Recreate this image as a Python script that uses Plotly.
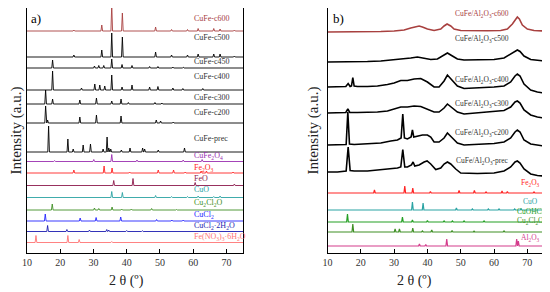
import plotly.graph_objects as go

# ---------- panel a) : peak positions (2 theta) and heights (a.u.) ----------
a_c600_pos = [24.1, 32.5, 35.5, 38.7, 48.7, 53.5, 58.3, 61.5, 66.2, 68.1, 72.4]
a_c600_int = [1, 6, 26, 18, 4, 1.5, 1.5, 2.5, 2.5, 2, 1]
a_c500_pos = [24.1, 32.5, 35.5, 38.7, 48.7, 53.5, 58.3, 61.5, 66.2, 68.1, 72.4]
a_c500_int = [2, 7, 24, 20, 5, 2, 2, 3, 3, 3, 1]
a_c450_pos = [17.7, 30.3, 31.6, 33.1, 35.5, 38.6, 41.6, 46.9, 49.4, 53.9, 57.0]
a_c450_int = [8, 2, 2.5, 2.5, 9, 3.5, 2.5, 1.5, 1.5, 1, 0.8]
a_c400_pos = [17.7, 26.4, 30.4, 31.9, 33.4, 35.5, 38.6, 41.6, 46.9, 49.4, 53.9, 56.9, 62.9]
a_c400_int = [19, 2, 6, 5, 4, 15, 3, 5, 3, 3.5, 2, 1.5, 1.5]
a_c300_pos = [15.6, 17.7, 25.9, 30.9, 35.5, 38.3, 40.5, 48.5, 50.6]
a_c300_int = [14, 5, 4, 6, 3, 5, 1.5, 1.5, 1]
a_c200_pos = [15.6, 16.2, 25.9, 30.9, 38.3, 48.9, 50.2, 54.0]
a_c200_int = [17, 3, 6, 8, 7, 3, 2, 1]
a_prec_pos = [16.5, 22.3, 23.9, 26.9, 29.1, 32.9, 34.1, 34.6, 35.2, 38.4, 41.0, 44.8, 45.4, 49.5, 57.4]
a_prec_int = [26, 13, 3, 7, 8, 3, 15, 4, 3, 2, 4, 4, 3, 2, 4]

ref_cufe2o4_pos = [18.3, 30.1, 35.5, 43.1, 57.0, 62.7]
ref_cufe2o4_int = [1, 2, 7, 1.5, 1.5, 2]
ref_fe2o3_pos = [24.1, 33.2, 35.6, 40.9, 49.5, 54.1, 57.6, 62.4, 64.0, 72.0]
ref_fe2o3_int = [3, 7, 5, 1, 3, 3, 1, 2, 2, 1]
ref_feo_pos = [36.1, 41.9, 60.6, 72.4]
ref_feo_int = [5, 7, 3, 1.5]
ref_cuo_pos = [35.5, 38.7, 48.7, 53.5, 58.3, 61.5, 66.2, 68.1]
ref_cuo_int = [6, 5, 2, 1, 1, 1.5, 1, 1.5]
ref_cu2cl2o_pos = [17.6, 30.3, 31.6, 35.6, 38.5, 41.4, 47.5, 55.0]
ref_cu2cl2o_int = [6, 2, 1.5, 3, 1, 1, 1.5, 0.5]
ref_cucl2_pos = [15.5, 26.0, 30.8, 38.2, 49.0, 53.6, 57.0]
ref_cucl2_int = [7, 3, 3.5, 4, 1.5, 1, 1]
ref_cucl2h2o_pos = [16.2, 22.0, 28.8, 34.0, 34.6, 40.0, 44.7]
ref_cucl2h2o_int = [6, 2, 1.5, 2, 1.5, 1, 0.8]
ref_fenit_pos = [12.7, 22.3, 25.7, 35.5]
ref_fenit_int = [7, 7, 3, 1]

# ---------- panel b) : measured profiles (2 theta, a.u.) ----------
b_c600_x = [10, 14, 18, 22, 26, 30, 33, 35, 36.5, 37.5, 38.5, 40, 42, 44, 45, 45.9, 47, 48, 50, 54, 58,
            62, 64, 65.5, 66.5, 67, 67.6, 68.5, 70, 72, 75]
b_c600_y = [0, 0, 0, 0.3, 0.5, 1, 2, 4, 5.5, 6, 5, 3, 1.5, 3, 6, 8, 6, 3, 1.5, 1.2, 1.2,
            1.5, 3, 8, 13, 15, 13, 7, 3, 1.5, 1]
b_c500_x = [10, 14, 18, 22, 26, 30, 33, 35, 37, 39, 41, 43, 44.5, 46, 47.5, 49, 51, 55, 60, 63, 65,
            66.3, 67, 67.8, 69, 71, 75]
b_c500_y = [0, 0, 0.3, 0.5, 1, 2, 3, 4, 5, 4, 2.5, 3, 6, 9, 6, 3, 2, 2, 2.5, 4, 8,
            11, 12, 10.5, 6, 2.5, 1]
b_c400_x = [10, 13, 15.5, 16.2, 16.8, 17.2, 17.6, 18.0, 19, 22, 25, 28, 30, 32, 34, 36, 38, 40, 42,
            43.5, 45, 46, 47.5, 49, 51, 55, 60, 63, 65, 66.3, 67, 67.8, 69, 71, 73, 75]
b_c400_y = [0, 0, 0.5, 3.5, 0.5, 1, 9.5, 1, 0.5, 0.5, 1, 2.5, 4, 6.5, 6.5, 8, 8.5, 5, 0,
            0, 6, 12, 7, 1, -1.5, -1, 0, 1, 5, 11, 13, 11, 3, -3, -5, -6]
b_c300_x = [10, 13, 15.5, 16.1, 16.7, 19, 22, 25, 28, 30, 32, 34, 36, 38, 40, 42, 43.5, 45, 46,
            47.5, 49, 51, 55, 60, 63, 65, 66.3, 67, 67.8, 69, 71, 73, 75]
b_c300_y = [0, 0, 0.5, 4, 0.5, 0.5, 0.5, 1, 2, 4, 6, 6, 7, 6.5, 4, 1, 1, 5, 9,
            5, 1, -1, 0, 1, 2.5, 6, 11, 12, 10, 3, -2, -4, -5]
b_c200_x = [10, 13, 15.6, 16.1, 16.6, 18, 22, 26, 29, 31, 32.1, 32.6, 33.1, 34, 35.1, 35.5, 35.9,
            37, 38.5, 40, 41, 42, 43.5, 45, 46, 47.5, 49, 51, 55, 60, 63, 65, 66.3, 67, 67.8, 69,
            71, 73, 75]
b_c200_y = [0, 0, 0.5, 33, 1, 0.5, 1, 2, 4, 5, 7, 31, 7, 6, 8, 15, 8,
            9, 10, 10, 8, 3, 3, 7, 12, 7, 2, 0, 0.5, 1.5, 3, 7, 13, 15, 13, 5,
            1, 0, -1]
b_prec_x = [10, 13, 15.6, 16.2, 16.8, 18, 22, 26, 29, 31, 32.0, 32.6, 33.2, 34, 35.2, 35.7, 36.2,
            37.5, 39, 39.9, 41, 42.5, 44, 45, 46, 47, 48.5, 50, 55, 60, 63, 65, 66.3, 67, 67.8,
            69, 71, 73, 75]
b_prec_y = [0, 0, 1, 25, 1.5, 1, 1, 2, 3, 4, 5, 22.5, 5, 5, 7, 10, 6,
            7, 10, 11, 8, 2.5, 4, 8, 10, 8, 3, -1, -1.5, -1, 1, 5, 10, 11, 9,
            3, -2, -3.5, -4]

refb_fe2o3_pos = [24.1, 33.2, 35.6, 40.9, 49.5, 54.1, 57.6, 62.4, 64.0, 72.0]
refb_fe2o3_int = [3, 7, 5, 1.5, 2.5, 2.5, 1, 2, 1.5, 1]
refb_cuo_pos = [35.5, 38.7, 48.7, 53.5, 58.3, 61.5, 66.2, 68.1]
refb_cuo_int = [8, 7, 2, 1, 1, 1, 1, 1]
refb_cuohcl_pos = [16.0, 32.5, 35.5, 40.0, 45.0, 47.5, 51.0, 57.0]
refb_cuohcl_int = [8, 5, 2, 1.5, 1, 1, 1, 1]
refb_cu2cl2o_pos = [17.6, 30.3, 31.6, 35.6, 38.5, 41.3, 47.4, 54.0, 63.0]
refb_cu2cl2o_int = [8, 3, 3, 4, 1, 2, 1.5, 0.8, 1]
refb_al2o3_pos = [37.6, 39.5, 45.8, 66.8, 67.3]
refb_al2o3_int = [2, 1.5, 7, 7, 5]

FONT = "Liberation Serif"
# the page body keeps its 8 px margin, so the figure itself is 8 px smaller
W, H, OFF = 542, 284, 8
PLOT_BOTTOM = 253 - OFF   # in figure pixels


def sticks(pos, inten, w=0.25):
    xs, ys = [10], [0]
    for p, h in sorted(zip(pos, inten)):
        xs += [p - w, p, p + w]
        ys += [0, h, 0]
    xs.append(75)
    ys.append(0)
    return xs, ys


def px(x):   # screen x -> paper
    return (x - OFF) / W


def py(y):   # screen y -> paper
    return (253 - y) / PLOT_BOTTOM


fig = go.Figure()

# (x, y, baseline, colour, label, label_y)
panel_a = [
    (*sticks(a_c600_pos, a_c600_int), 222, "#a8403f", "CuFe-c600", 235),
    (*sticks(a_c500_pos, a_c500_int), 196, "black", "CuFe-c500", 216),
    (*sticks(a_c450_pos, a_c450_int), 185, "black", "CuFe-c450", 192),
    (*sticks(a_c400_pos, a_c400_int), 163, "black", "CuFe-c400", 177),
    (*sticks(a_c300_pos, a_c300_int), 149, "black", "CuFe-c300", 156),
    (*sticks(a_c200_pos, a_c200_int), 130, "black", "CuFe-c200", 141),
    (*sticks(a_prec_pos, a_prec_int), 101, "black", "CuFe-prec", 115),
    (*sticks(ref_cufe2o4_pos, ref_cufe2o4_int), 91.5, "#9a2fb0", "CuFe<sub>2</sub>O<sub>4</sub>", 97.5),
    (*sticks(ref_fe2o3_pos, ref_fe2o3_int), 80, "#ff2424", "Fe<sub>2</sub>O<sub>3</sub>", 85.5),
    (*sticks(ref_feo_pos, ref_feo_int), 67.5, "#8c1a4c", "FeO", 75),
    (*sticks(ref_cuo_pos, ref_cuo_int), 55.5, "#2aa3a3", "CuO", 63.5),
    (*sticks(ref_cu2cl2o_pos, ref_cu2cl2o_int), 43, "#3f8f25", "Cu<sub>2</sub>Cl<sub>2</sub>O", 50.5),
    (*sticks(ref_cucl2_pos, ref_cucl2_int), 32, "#2424ff", "CuCl<sub>2</sub>", 38.5),
    (*sticks(ref_cucl2h2o_pos, ref_cucl2h2o_int), 21.5, "#1c1cb0", "CuCl<sub>2</sub>·2H<sub>2</sub>O", 27.5),
    (*sticks(ref_fenit_pos, ref_fenit_int), 10.5, "#ff7474", "Fe(NO<sub>3</sub>)<sub>3</sub>·6H<sub>2</sub>O", 16.5),
]

for xs, ys, base, col, lab, ly in panel_a:
    fig.add_trace(go.Scatter(x=xs, y=[v + base for v in ys], mode="lines",
                             line=dict(color=col, width=0.9), xaxis="x", yaxis="y",
                             showlegend=False, hoverinfo="skip"))
    fig.add_annotation(x=59.8, y=ly, xref="x", yref="y", text=lab, showarrow=False,
                       xanchor="left", yanchor="middle",
                       font=dict(family=FONT, size=8, color="#333" if col == "black" else col))

panel_b_meas = [
    (b_c600_x, b_c600_y, 221, "#a8403f", "CuFe/Al<sub>2</sub>O<sub>3</sub>-c600", 239),
    (b_c500_x, b_c500_y, 191, "black", "CuFe/Al<sub>2</sub>O<sub>3</sub>-c500", 214),
    (b_c400_x, b_c400_y, 166, "black", "CuFe/Al<sub>2</sub>O<sub>3</sub>-c400", 173),
    (b_c300_x, b_c300_y, 140, "black", "CuFe/Al<sub>2</sub>O<sub>3</sub>-c300", 149),
    (b_c200_x, b_c200_y, 108, "black", "CuFe/Al<sub>2</sub>O<sub>3</sub>-c200", 120),
    (b_prec_x, b_prec_y, 81, "black", "CuFe/Al<sub>2</sub>O<sub>3</sub>-prec", 92),
]
for xs, ys, base, col, lab, ly in panel_b_meas:
    fig.add_trace(go.Scatter(x=xs, y=[v + base for v in ys], mode="lines",
                             line=dict(color=col, width=1.6), xaxis="x2", yaxis="y2",
                             showlegend=False, hoverinfo="skip"))
    fig.add_annotation(x=56.5, y=ly, xref="x2", yref="y2", text=lab, showarrow=False,
                       xanchor="center", yanchor="middle",
                       font=dict(family=FONT, size=7.5, color="#333" if col == "black" else col))

panel_b_ref = [
    (*sticks(refb_fe2o3_pos, refb_fe2o3_int), 60, "#ff2424", "Fe<sub>2</sub>O<sub>3</sub>", 70),
    (*sticks(refb_cuo_pos, refb_cuo_int), 43, "#2aa3a3", "CuO", 52),
    (*sticks(refb_cuohcl_pos, refb_cuohcl_int), 31, "#25a025", "CuOHCl", 42),
    (*sticks(refb_cu2cl2o_pos, refb_cu2cl2o_int), 21, "#3f8f25", "Cu<sub>2</sub>Cl<sub>2</sub>O", 32),
    (*sticks(refb_al2o3_pos, refb_al2o3_int), 7, "#d43c8c", "Al<sub>2</sub>O<sub>3</sub>", 15),
]
for xs, ys, base, col, lab, ly in panel_b_ref:
    fig.add_trace(go.Scatter(x=xs, y=[v + base for v in ys], mode="lines",
                             line=dict(color=col, width=1.2), xaxis="x2", yaxis="y2",
                             showlegend=False, hoverinfo="skip"))
    fig.add_annotation(x=70.8, y=ly, xref="x2", yref="y2", text=lab, showarrow=False,
                       xanchor="center", yanchor="middle",
                       font=dict(family=FONT, size=7.5, color=col))

xcommon = dict(range=[10, 75], tickvals=[10, 20, 30, 40, 50, 60, 70], ticks="inside", ticklen=4,
               tickcolor="black", showline=True, linecolor="black", linewidth=1, mirror=True,
               showgrid=False, zeroline=False, automargin=False,
               tickfont=dict(family=FONT, size=10, color="#333"))
ycommon = dict(range=[0, PLOT_BOTTOM], showticklabels=False, ticks="", showline=True,
               linecolor="black", linewidth=1, mirror=True, showgrid=False, zeroline=False,
               automargin=False)

fig.update_layout(
    width=W, height=H,
    margin=dict(l=0, r=0, t=0, b=H - PLOT_BOTTOM, autoexpand=False),
    paper_bgcolor="white", plot_bgcolor="white",
    xaxis=dict(domain=[px(27), px(243)], anchor="y", **xcommon),
    yaxis=dict(anchor="x", **ycommon),
    xaxis2=dict(domain=[px(327.5), px(544)], anchor="y2", **xcommon),
    yaxis2=dict(anchor="x2", **ycommon),
    showlegend=False,
)

center = dict(xref="paper", yref="paper", xanchor="center", yanchor="middle", showarrow=False)
for x, txt in [(35.5, "a)"), (338, "b)")]:
    fig.add_annotation(x=px(x), y=py(19), text=txt,
                       font=dict(family=FONT, size=13, color="black"), **center)
for x in (16, 313):
    fig.add_annotation(x=px(x), y=0.5, text="Intensity (a.u.)", textangle=-90,
                       font=dict(family=FONT, size=15, color="#222"), **center)
for x in (126, 414):
    fig.add_annotation(x=px(x), y=py(281), text="2 θ (º)",
                       font=dict(family=FONT, size=14, color="#222"), **center)

fig.write_html("out.html")
